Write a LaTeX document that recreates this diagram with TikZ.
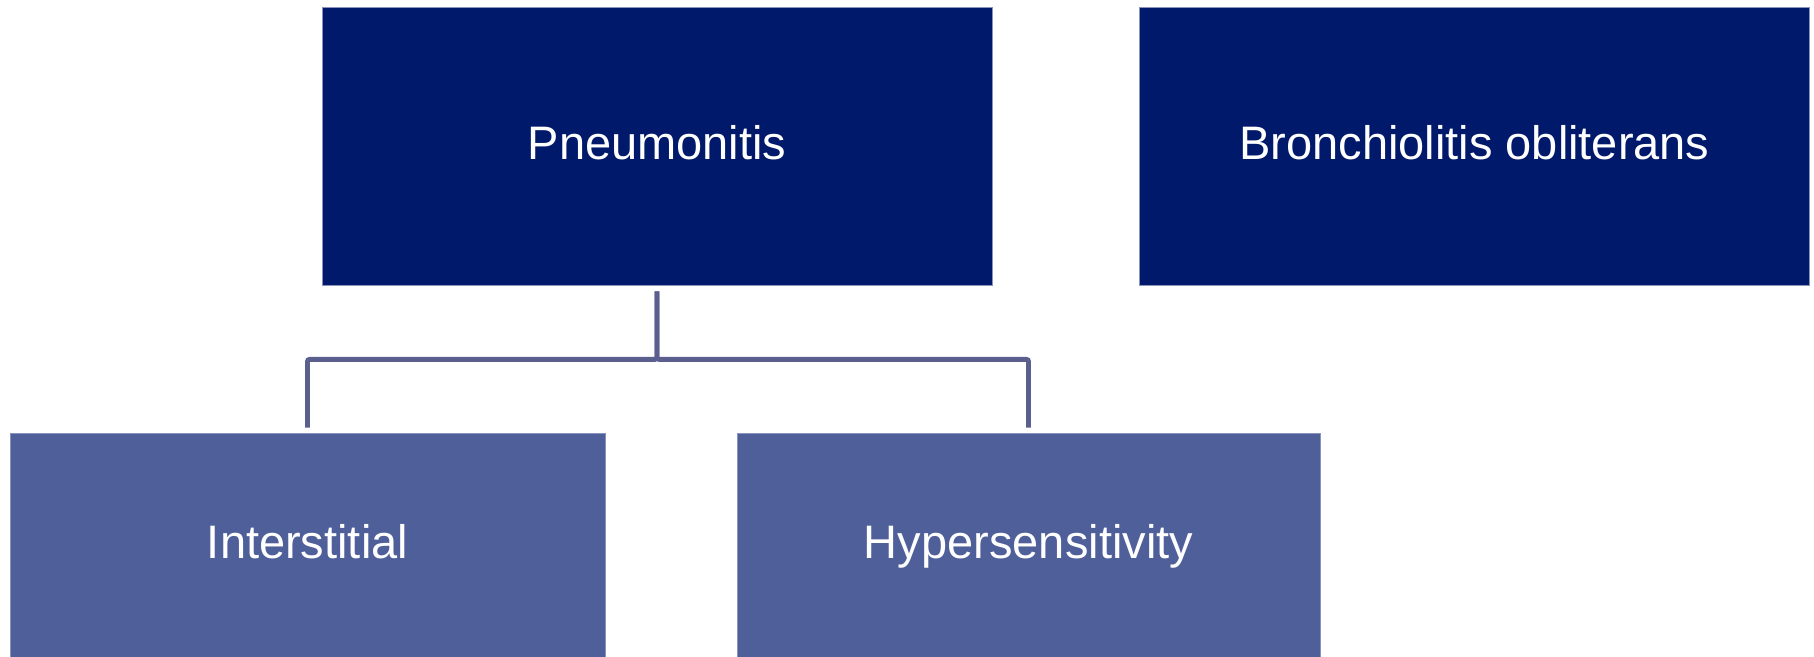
\documentclass[tikz,border=0pt]{standalone}
\usepackage{fontspec}
\setmainfont{Liberation Sans}
\usepackage{tikz}
\usetikzlibrary{positioning}
\definecolor{koyuLaci}{HTML}{00196B}
\definecolor{acikLaci}{HTML}{4F5F99}
\definecolor{cizgiGri}{HTML}{5A5F8E}
\definecolor{kenarGri}{HTML}{8A93BC}

\begin{document}
\begin{tikzpicture}[x=0.5pt, y=-0.5pt,
  every node/.style={font=\fontsize{23.5}{28}\selectfont, text=white, inner sep=0pt,
                     text height=18pt, text depth=4.5pt},
  ustkutu/.style={fill=koyuLaci, draw=kenarGri, line width=0.4pt,
                  minimum width=335pt, minimum height=139pt},
  altkutu/.style={fill=acikLaci, draw=kenarGri, line width=0.4pt,
                  minimum height=112pt},
  baglanti/.style={draw=cizgiGri, line width=2.4pt, rounded corners=1pt,
                   shorten <=3pt, shorten >=2.5pt}]
\useasboundingbox (0,0) rectangle (1814,657);
\node[ustkutu] (pn) at (657,146) {Pneumonitis};
\node[ustkutu] (bo) at (1474.5,146) {Bronchiolitis obliterans};
\node[altkutu, minimum width=297.5pt] (it) at (307.5,545) {Interstitial};
\node[altkutu, minimum width=291.5pt] (hs) at (1028.5,545) {Hypersensitivity};
\foreach \y in {it, hs} \draw[baglanti] (pn.south) -- ++(0,74) -| (\y.north);
\end{tikzpicture}
\end{document}
